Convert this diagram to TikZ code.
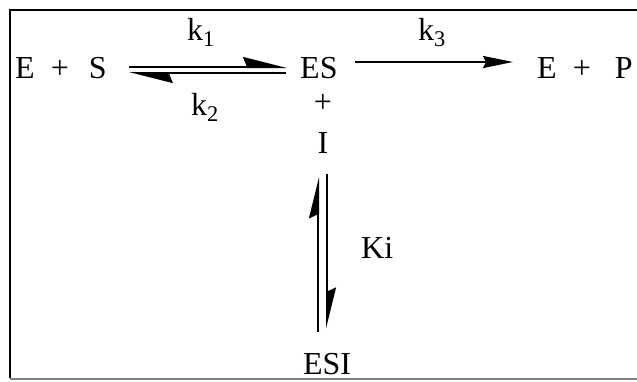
\documentclass[tikz,border=0pt]{standalone}
\usepackage{fontspec}
\setmainfont{Liberation Serif}
\usepackage{tikz}
\usetikzlibrary{arrows.meta,calc}
\newcommand{\chemfont}{\fontsize{32}{38}\selectfont}

\begin{document}
\begin{tikzpicture}[x=1pt, y=-1pt,
                    every node/.style={font=\chemfont, inner sep=0pt},
                    harp/.style={line width=2pt,
                      -{Stealth[harpoon, length=40pt, width=20pt, inset=4pt]}},
                    vharp/.style={line width=2pt,
                      -{Stealth[harpoon, length=37pt, width=18pt, inset=4pt]}},
                    fwd/.style={line width=2pt,
                      -{Stealth[length=30pt, width=12pt, inset=3pt]}}]
  \useasboundingbox (0,0) rectangle (637,381);

  % frame (open on the right)
  \draw[line width=2pt] (637,9.5) -- (9.5,9.5) -- (9.5,378);
  \draw[gray, line width=1.5pt] (9.5,379) -- (637,379);

  % species
  \node[anchor=base west] (lhs)  at (15,78)  {E\hspace{16pt}+\hspace{20pt}S};
  \node[anchor=base west] (cplx) at (300,78) {ES};
  \node[anchor=base west] (prod) at (537,78) {E\hspace{16pt}+\hspace{24pt}P};
  \node (plus) at (323,103) {+};
  \node[anchor=base] (inh) at (323,153) {I};
  \node[anchor=base] (esi) at (327,374) {ESI};

  % rate constants
  \node[anchor=base] (k1) at (201,40)  {k\textsubscript{1}};
  \node[anchor=base] (k2) at (205,115) {k\textsubscript{2}};
  \node[anchor=base] (k3) at (432,40)  {k\textsubscript{3}};
  \node[anchor=base west] (ki) at (361,258) {Ki};

  % E + S <=> ES
  \draw[harp, shorten <=22pt, shorten >=13pt]
        ([yshift=11pt]lhs.base east) -- ([yshift=11pt]cplx.base west);
  \draw[harp, shorten <=14pt, shorten >=22pt]
        ([yshift=5pt]cplx.base west) -- ([yshift=5pt]lhs.base east);

  % ES -> E + P
  \draw[fwd, shorten <=17pt, shorten >=24pt]
        ([yshift=16pt]cplx.base east) -- ([yshift=16pt]prod.base west);

  % ES + I <=> ESI
  \draw[vharp, shorten <=21pt, shorten >=24pt]
        ($(inh.south |- esi.north)+(-5,0)$) -- ($(inh.south)+(-5,0)$);
  \draw[vharp, shorten <=21pt, shorten >=24pt]
        ($(inh.south)+(4,0)$) -- ($(inh.south |- esi.north)+(4,0)$);
\end{tikzpicture}
\end{document}
